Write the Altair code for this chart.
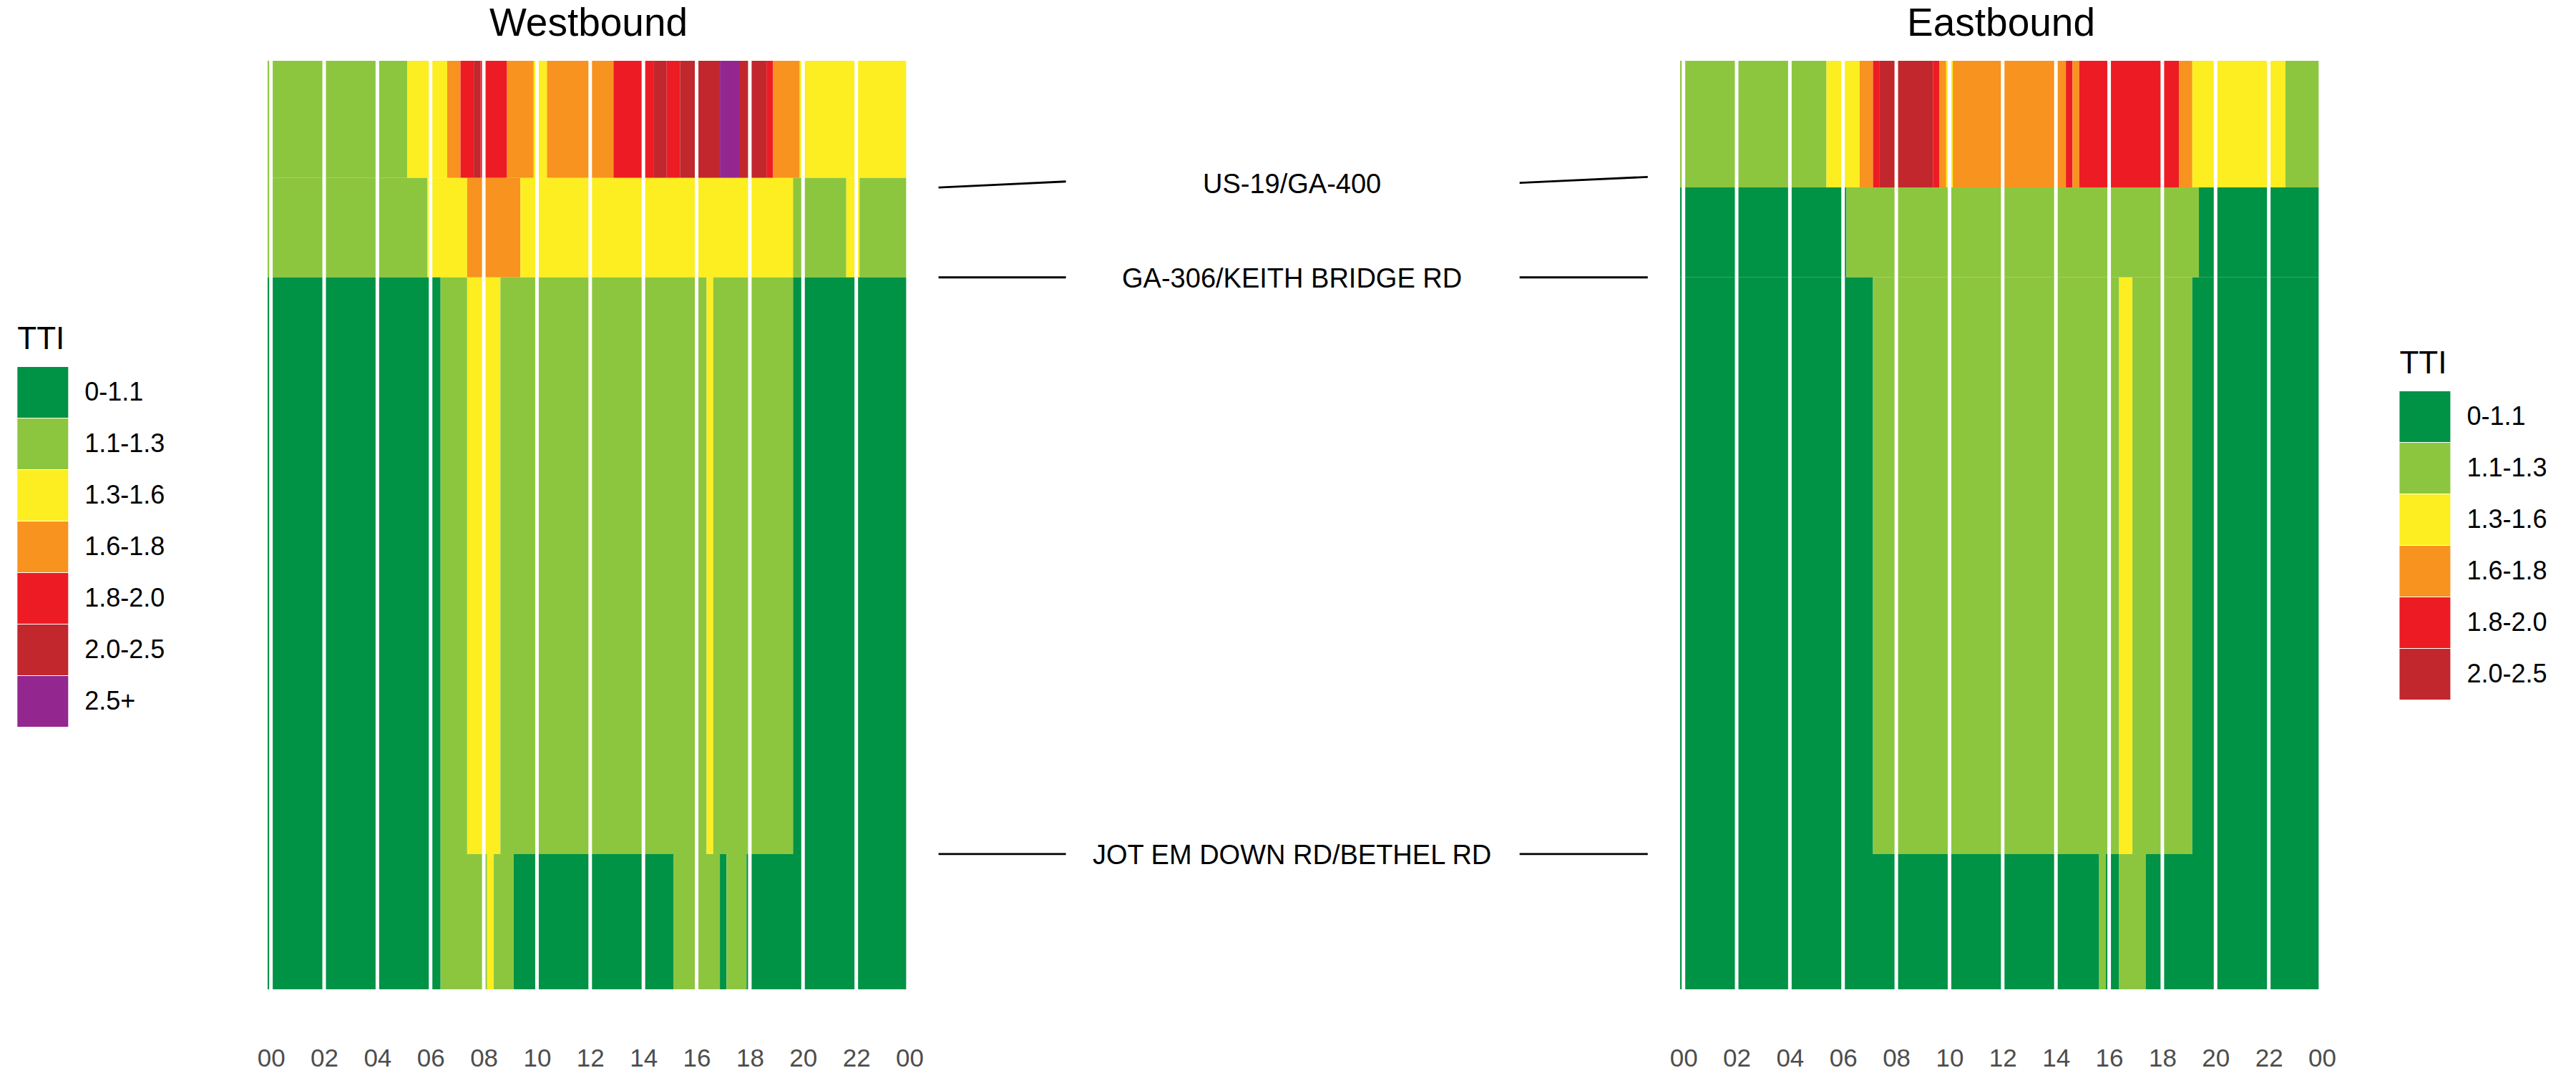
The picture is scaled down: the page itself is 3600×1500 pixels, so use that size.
import altair as alt
import pandas as pd

FONT = "Liberation Sans"

# ---- TTI classes and colours ----
CLASSES = ["0-1.1", "1.1-1.3", "1.3-1.6", "1.6-1.8", "1.8-2.0", "2.0-2.5", "2.5+"]
COLORS = ["#009245", "#8cc63f", "#fcee21", "#f7931e", "#ed1c24", "#c1272d", "#93278f"]

BIN_HOURS = 0.25          # 15-minute bins
HOUR_TICKS = list(range(0, 25, 2))

# segment boundaries (miles from top of panel)
WB_BOUNDS = [0.0, 1.637, 3.027, 11.087, 12.977]
EB_BOUNDS = [0.0, 1.770, 3.027, 11.087, 12.977]

# runs of (class index, number of 15-min bins), one list per segment (top to bottom)
WB_SEG1 = [(1, 21), (2, 6), (3, 2), (4, 2), (5, 1), (4, 4), (3, 4), (2, 2), (3, 10), (4, 6),
           (5, 2), (4, 2), (5, 6), (6, 3), (5, 4), (4, 1), (3, 4), (2, 16)]
WB_SEG2 = [(1, 24), (2, 6), (3, 8), (2, 41), (1, 8), (2, 2), (1, 7)]
WB_SEG3 = [(0, 26), (1, 4), (2, 5), (1, 31), (2, 1), (1, 12), (0, 17)]
WB_SEG4 = [(0, 26), (1, 7), (2, 1), (1, 3), (0, 24), (1, 7), (0, 1), (1, 3), (0, 24)]

EB_SEG1 = [(1, 22), (2, 5), (3, 2), (4, 1), (5, 8), (4, 1), (3, 1), (2, 1), (3, 17), (4, 1),
           (3, 1), (4, 15), (3, 2), (2, 14), (1, 5)]
EB_SEG2 = [(0, 25), (1, 53), (0, 18)]
EB_SEG3 = [(0, 29), (1, 37), (2, 2), (1, 9), (0, 19)]
EB_SEG4 = [(0, 63), (1, 1), (0, 2), (1, 4), (0, 26)]

CROSS_STREETS = ["US-19/GA-400", "GA-306/KEITH BRIDGE RD", "JOT EM DOWN RD/BETHEL RD"]
LABEL_Y = [1.74, 3.06, 11.12]
LEFT_LEADER_Y = [(1.77, 1.687), (3.027, 3.027), (11.087, 11.087)]
RIGHT_LEADER_Y = [(1.705, 1.623), (3.027, 3.027), (11.087, 11.087)]
LEADER_X = [(0.0377, 0.203), (0.7917, 0.958)]
LABEL_X = 0.4964

PANEL_W = 897
PANEL_H = 1298
MID_W = 1077
Y_MAX = WB_BOUNDS[-1]


def runs_to_df(segments, bounds):
    rows = []
    for s, runs in enumerate(segments):
        b = 0
        for cls, n in runs:
            rows.append({
                "t0": (b - 0.5) * BIN_HOURS,
                "t1": (b + n - 0.5) * BIN_HOURS,
                "y0": bounds[s],
                "y1": bounds[s + 1],
                "TTI": CLASSES[cls],
            })
            b += n
    return pd.DataFrame(rows)


def panel(df, title, ncls, legend_x, legend_y):
    xscale = alt.Scale(domain=[-0.125, 24], nice=False, zero=False)
    yscale = alt.Scale(domain=[0, Y_MAX], reverse=True, nice=False, zero=False)
    xaxis = alt.Axis(
        values=HOUR_TICKS,
        labelExpr="datum.value == 24 ? '00' : (datum.value < 10 ? '0' + datum.value : '' + datum.value)",
        title=None, ticks=False, tickSize=0, domain=False, grid=False,
        labelFont=FONT, labelFontSize=35, labelColor="#4d4d4d", labelPadding=79,
        labelFlush=False, labelOverlap=False,
    )
    rects = alt.Chart(df).mark_rect(strokeWidth=0).encode(
        x=alt.X("t0:Q", scale=xscale, axis=xaxis),
        x2="t1:Q",
        y=alt.Y("y0:Q", scale=yscale, axis=None),
        y2="y1:Q",
        color=alt.Color(
            "TTI:N",
            scale=alt.Scale(domain=CLASSES[:ncls], range=COLORS[:ncls]),
            legend=alt.Legend(
                orient="none", legendX=legend_x, legendY=legend_y,
                title="TTI", titleFont=FONT, titleFontSize=44, titleFontWeight="normal",
                titleColor="black", titlePadding=16, titleAnchor="start",
                labelFont=FONT, labelFontSize=36, labelColor="black", labelOffset=23,
                symbolType="square", symbolSize=5041, symbolStrokeWidth=0,
                symbolOpacity=1, rowPadding=1, padding=0,
            ),
        ),
    )
    grid = alt.Chart(pd.DataFrame({"t0": HOUR_TICKS[:-1]})).mark_rule(
        color="white", strokeWidth=5
    ).encode(x=alt.X("t0:Q", scale=xscale, axis=xaxis))
    return alt.layer(rects, grid).properties(
        width=PANEL_W, height=PANEL_H,
        title=alt.TitleParams(
            text=title, font=FONT, fontSize=55, fontWeight="normal", color="black",
            anchor="middle", baseline="alphabetic", offset=-22,
        ),
    )


wb = panel(runs_to_df([WB_SEG1, WB_SEG2, WB_SEG3, WB_SEG4], WB_BOUNDS), "Westbound", 7, -349.7, 368)
eb = panel(runs_to_df([EB_SEG1, EB_SEG2, EB_SEG3, EB_SEG4], EB_BOUNDS), "Eastbound", 6, 1005.4, 402)

# ---- middle: cross-street labels with leader lines ----
leader_rows = []
for i, name in enumerate(CROSS_STREETS):
    leader_rows.append({"name": name, "x0": LEADER_X[0][0], "x1": LEADER_X[0][1],
                        "y0": LEFT_LEADER_Y[i][0], "y1": LEFT_LEADER_Y[i][1]})
    leader_rows.append({"name": name, "x0": LEADER_X[1][0], "x1": LEADER_X[1][1],
                        "y0": RIGHT_LEADER_Y[i][0], "y1": RIGHT_LEADER_Y[i][1]})
leaders_df = pd.DataFrame(leader_rows)
labels_df = pd.DataFrame({"name": CROSS_STREETS, "y": LABEL_Y, "x": [LABEL_X] * len(CROSS_STREETS)})

mx = alt.Scale(domain=[0, 1], nice=False, zero=False)
my = alt.Scale(domain=[0, Y_MAX], reverse=True, nice=False, zero=False)

leaders = alt.Chart(leaders_df).mark_rule(color="black", strokeWidth=2.8).encode(
    x=alt.X("x0:Q", scale=mx, axis=None), x2="x1:Q",
    y=alt.Y("y0:Q", scale=my, axis=None), y2="y1:Q",
)
labels = alt.Chart(labels_df).mark_text(
    font=FONT, fontSize=38, color="black", align="center", baseline="middle"
).encode(
    x=alt.X("x:Q", scale=mx, axis=None),
    y=alt.Y("y:Q", scale=my, axis=None),
    text="name:N",
)
mid = alt.layer(leaders, labels).properties(width=MID_W, height=PANEL_H)

chart = alt.hconcat(wb, mid, eb, spacing=0, bounds="flush").resolve_scale(
    x="independent", y="independent", color="independent"
).resolve_legend(color="independent").properties(
    padding={"left": 23, "top": 5, "right": 10, "bottom": 10},
    background="white",
).configure_view(stroke="transparent")

chart.save("out.html", embed_options={"renderer": "svg", "actions": False})
